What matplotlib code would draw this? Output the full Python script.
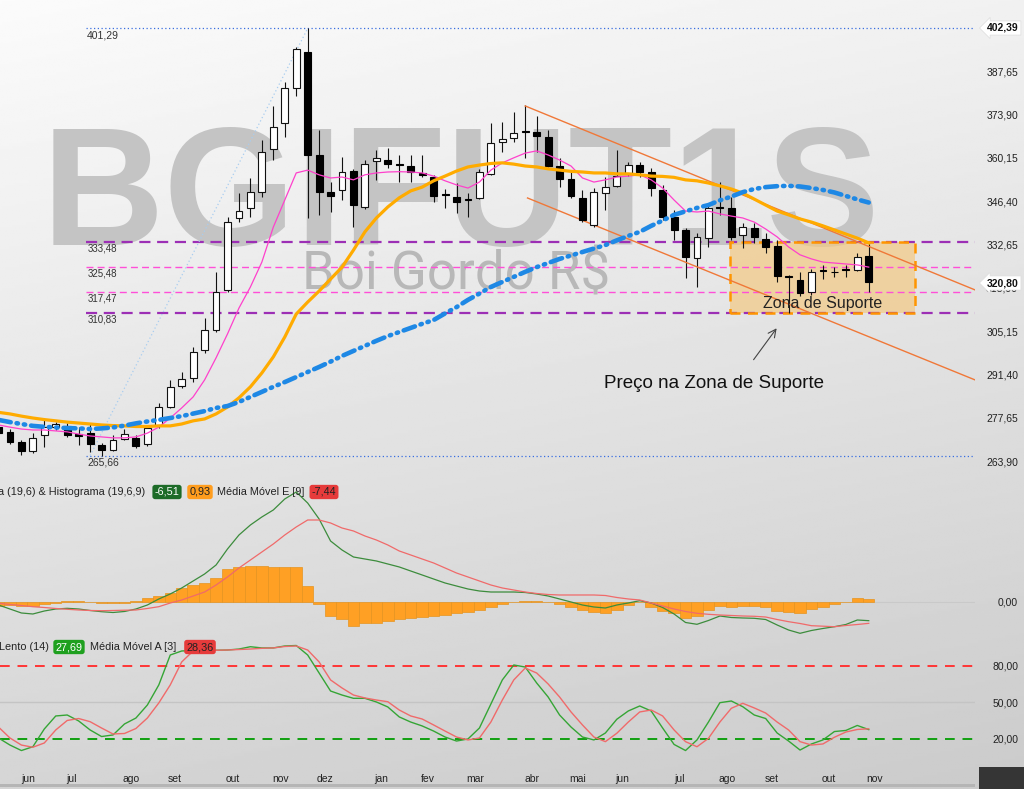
import numpy as np
import matplotlib
matplotlib.use('Agg')
from matplotlib import pyplot as plt
from matplotlib.patches import Rectangle

# weekly candles (BGIFUT1S)
opens = [274.9, 273.0, 270.1, 267.1, 272.2, 274.9, 275.1, 272.4, 272.8, 269.0,
         267.3, 270.9, 271.2, 269.3, 275.4, 281.2, 287.8, 290.2, 299.2, 305.5,
         318.2, 341.0, 344.2, 349.4, 362.9, 371.2, 382.3, 393.9, 361.1, 349.4,
         350.0, 356.1, 344.7, 359.3, 359.5, 358.0, 357.6, 355.5, 354.0, 348.5,
         347.7, 346.9, 347.4, 355.1, 365.3, 366.6, 368.6, 368.5, 366.9, 357.6,
         353.4, 347.4, 338.9, 349.1, 351.3, 355.3, 357.9, 355.8, 350.0, 341.5,
         337.3, 328.3, 334.7, 344.6, 344.2, 335.7, 337.8, 334.3, 332.2, 322.5,
         321.4, 317.7, 324.4, 324.0, 324.7, 324.6, 329.0]
highs = [275.5, 274.0, 270.5, 272.8, 277.0, 276.4, 276.0, 274.9, 276.0, 269.6,
         272.2, 274.1, 272.2, 275.0, 282.4, 289.6, 292.3, 300.2, 309.3, 324.1,
         341.3, 348.9, 353.7, 365.9, 376.7, 384.4, 395.5, 401.29, 369.0, 352.6,
         360.6, 356.5, 359.5, 362.7, 363.2, 361.1, 361.1, 361.1, 354.7, 350.2,
         352.1, 349.0, 356.5, 371.4, 371.7, 374.9, 377.0, 373.5, 369.0, 360.0,
         355.8, 350.0, 350.5, 354.2, 362.7, 359.0, 359.0, 357.0, 351.5, 343.6,
         337.8, 336.2, 345.2, 352.6, 347.9, 339.4, 339.4, 336.2, 334.1, 323.0,
         324.0, 325.0, 326.2, 325.5, 326.2, 330.1, 333.1]
lows = [272.0, 269.5, 265.8, 266.5, 268.5, 273.8, 271.6, 269.0, 266.9, 265.66,
        267.2, 270.6, 268.0, 268.8, 274.5, 280.8, 287.0, 289.0, 298.1, 305.0,
        317.7, 339.9, 341.5, 347.9, 359.5, 366.7, 379.8, 341.0, 342.0, 343.1,
        346.8, 338.3, 344.0, 353.2, 356.9, 352.6, 352.6, 354.0, 346.3, 344.2,
        342.6, 341.5, 347.0, 354.7, 362.1, 365.3, 360.0, 362.0, 357.4, 351.0,
        347.4, 339.9, 338.3, 343.6, 351.0, 354.5, 354.0, 348.0, 340.5, 334.1,
        322.0, 319.3, 332.0, 342.1, 334.1, 331.5, 333.0, 329.9, 320.9, 311.0,
        316.3, 316.5, 321.6, 322.5, 322.5, 324.4, 317.7]
closes = [272.8, 270.1, 267.0, 271.2, 274.9, 275.6, 272.2, 272.0, 269.3, 267.6,
          270.6, 272.4, 268.7, 274.3, 281.2, 287.5, 289.9, 298.7, 305.5, 317.7,
          339.9, 343.4, 349.2, 362.1, 369.9, 382.3, 394.6, 361.1, 349.4, 348.2,
          355.8, 345.2, 358.2, 360.0, 358.1, 357.8, 355.8, 354.7, 348.1, 348.3,
          346.3, 346.7, 355.8, 365.0, 366.1, 368.2, 368.4, 367.1, 357.6, 353.4,
          348.1, 340.5, 349.4, 350.8, 354.4, 357.9, 355.8, 350.5, 341.5, 337.3,
          328.8, 335.2, 344.2, 344.4, 335.2, 338.3, 335.0, 332.0, 322.7, 322.3,
          317.4, 324.1, 324.2, 323.8, 324.5, 328.6, 320.8]

ma_short = [275.4, 274.7, 274.1, 273.8, 273.8, 273.5, 273.2, 272.5, 271.9, 271.6,
            271.3, 271.3, 271.6, 272.8, 274.7, 277.6, 280.8, 284.3, 289.7, 296.7,
            304.3, 312.5, 319.2, 327.1, 338.2, 346.8, 355.4, 356.3, 354.8, 353.8,
            354.1, 353.2, 354.8, 355.4, 355.7, 355.8, 355.7, 355.4, 354.4, 352.9,
            351.6, 350.6, 352.5, 356.3, 358.6, 360.2, 361.7, 362.4, 361.1, 359.5,
            357.6, 353.8, 352.5, 353.2, 354.1, 354.4, 354.8, 353.2, 350.6, 346.8,
            343.3, 343.0, 343.3, 342.4, 341.7, 341.1, 339.8, 337.6, 335.1, 331.9,
            329.4, 328.1, 327.1, 326.8, 326.5, 326.2, 325.5]
ma_mid = [279.4, 278.9, 278.2, 277.6, 277.1, 276.7, 276.3, 276.0, 275.7, 275.4,
          275.2, 275.1, 274.9, 274.9, 275.1, 275.1, 275.7, 276.7, 277.3, 278.9,
          281.1, 284.0, 287.5, 291.9, 297.0, 303.3, 310.6, 314.4, 317.9, 321.7,
          325.5, 330.9, 336.7, 341.1, 344.6, 347.5, 349.7, 350.9, 352.9, 354.4,
          356.0, 357.3, 357.9, 358.4, 358.6, 358.2, 357.6, 357.3, 356.7, 356.3,
          355.9, 355.7, 355.4, 355.4, 355.1, 355.1, 354.8, 354.4, 354.3, 354.0,
          353.2, 352.9, 352.2, 351.3, 350.3, 349.0, 347.1, 345.2, 343.3, 342.1,
          340.8, 339.8, 338.6, 337.3, 336.0, 334.7, 333.2]
ma_long = [277.0, 276.3, 275.7, 275.1, 274.8, 274.6, 274.4, 274.3, 274.1, 274.3,
           274.6, 275.2, 275.9, 276.5, 277.0, 277.6, 278.2, 279.0, 279.8, 280.8,
           281.4, 282.7, 284.3, 285.9, 287.5, 289.0, 290.6, 292.2, 293.8, 295.5,
           297.3, 298.9, 300.5, 302.1, 303.6, 304.9, 306.2, 307.5, 308.7, 310.8,
           312.8, 315.1, 317.1, 319.2, 320.8, 322.4, 324.0, 325.5, 326.8, 328.1,
           329.2, 330.3, 331.4, 332.5, 334.0, 335.4, 336.7, 338.6, 340.3, 342.1,
           343.2, 344.3, 345.2, 346.7, 347.9, 349.3, 350.3, 350.9, 351.2, 351.3,
           351.1, 350.6, 350.0, 349.2, 348.1, 347.0, 346.0]

macd = [-1.05, -2.44, -3.83, -4.18, -3.14, -2.44, -2.20, -2.44, -2.96, -3.38,
        -3.66, -3.31, -2.44, -1.05, 1.05, 2.79, 4.88, 7.32, 9.76, 12.89,
        18.47, 23.34, 26.83, 29.62, 32.06, 35.89, 38.33, 34.49, 28.92, 21.25,
        18.12, 15.68, 14.98, 14.29, 13.24, 12.20, 10.80, 9.41, 8.01, 6.62,
        5.57, 4.53, 3.83, 3.48, 3.48, 3.48, 3.31, 2.79, 2.09, 1.05,
        0.0, -1.05, -1.74, -2.09, -1.05, -0.35, 0.45, -0.35, -1.92, -4.18,
        -7.14, -7.77, -6.45, -4.88, -5.40, -5.57, -5.68, -6.10, -8.01, -9.76,
        -10.91, -9.93, -9.23, -8.61, -7.84, -6.27, -6.51]
macd_signal = [-0.45, -0.87, -1.22, -1.64, -1.92, -2.26, -2.54, -2.79, -2.96, -3.03,
               -2.96, -2.86, -2.79, -2.26, -1.64, -0.35, 0.70, 2.09, 3.48, 5.92,
               8.71, 11.85, 14.63, 17.42, 20.21, 23.34, 26.13, 28.57, 28.57, 27.53,
               25.78, 24.74, 23.00, 21.60, 19.86, 17.77, 16.38, 14.98, 13.59, 11.85,
               10.10, 8.71, 7.32, 5.92, 4.88, 4.18, 3.48, 2.96, 2.61, 2.44,
               2.44, 2.44, 2.44, 2.26, 1.57, 1.05, 0.70, -0.35, -1.39, -2.44,
               -3.31, -3.94, -4.29, -4.53, -4.70, -4.88, -4.98, -5.23, -6.10, -6.86,
               -7.49, -8.26, -8.43, -8.61, -8.19, -7.84, -7.44]
macd_hist = [-1.39, -1.22, -1.39, -1.39, -0.70, -0.35, 0.35, 0.35, 0.05, -0.35,
             -0.52, -0.35, 0.35, 1.39, 2.09, 3.24, 4.77, 5.92, 6.52, 8.26,
             11.39, 12.30, 12.65, 12.65, 12.30, 12.30, 12.30, 5.57, -0.70, -4.88,
             -6.03, -8.26, -7.42, -7.21, -6.52, -5.92, -5.57, -5.23, -4.88, -4.53,
             -3.83, -3.48, -2.79, -1.74, -0.70, -0.10, 0.52, 0.52, 0.17, -0.70,
             -1.74, -2.79, -3.48, -3.94, -2.79, -1.05, -0.10, -1.64, -3.03, -3.94,
             -5.68, -4.88, -2.79, -1.39, -1.64, -1.39, -1.39, -1.64, -3.03, -3.38,
             -3.73, -2.54, -1.64, -0.70, -0.17, 1.39, 0.93]

stoch_k = [20.8, 15.0, 10.5, 13.6, 28.2, 38.9, 39.7, 34.8, 27.4, 22.0,
           23.3, 32.3, 37.2, 47.9, 64.4, 89.0, 92.3, 92.7, 92.7, 92.9,
           93.1, 93.9, 95.8, 94.8, 94.8, 96.4, 96.8, 89.0, 74.2, 59.4,
           56.1, 53.4, 53.4, 50.4, 46.3, 38.1, 33.9, 30.7, 26.5, 21.6,
           18.3, 20.0, 29.0, 48.7, 68.5, 80.8, 79.1, 66.0, 54.5, 39.7,
           29.8, 21.6, 19.2, 24.9, 36.2, 43.0, 47.1, 43.0, 29.0, 15.5,
           10.5, 19.2, 33.9, 49.8, 51.2, 46.5, 39.7, 36.8, 24.9, 18.3,
           10.9, 15.9, 19.2, 26.1, 27.0, 31.1, 27.69]
stoch_d = [29.8, 20.8, 15.0, 13.2, 16.7, 27.4, 35.2, 36.8, 34.2, 29.0,
           24.1, 24.5, 28.6, 37.2, 49.6, 64.4, 83.3, 92.3, 92.7, 92.9,
           93.1, 93.5, 93.9, 94.5, 94.8, 96.0, 96.4, 93.1, 83.3, 68.5,
           61.9, 56.1, 53.7, 52.0, 50.6, 43.8, 38.9, 36.4, 31.5, 26.5,
           21.6, 19.2, 20.8, 33.9, 52.0, 68.5, 78.3, 74.2, 65.2, 54.5,
           42.2, 31.5, 21.6, 17.8, 24.7, 33.9, 42.2, 43.8, 38.9, 27.4,
           17.8, 13.6, 20.5, 33.9, 45.2, 49.3, 45.5, 41.3, 33.9, 27.4,
           17.8, 15.0, 15.9, 21.4, 25.7, 27.8, 28.36]

month_pos = [2.58, 6.33, 11.57, 15.4, 20.5, 24.6, 28.5, 33.4, 37.5, 41.6,
             46.6, 50.6, 54.5, 59.5, 63.6, 67.5, 72.5, 76.5]
month_names = ['jun', 'jul', 'ago', 'set', 'out', 'nov', 'dez', 'jan', 'fev', 'mar',
               'abr', 'mai', 'jun', 'jul', 'ago', 'set', 'out', 'nov']

price_ticks = [263.90, 277.65, 291.40, 305.15, 318.90, 332.65, 346.40, 360.15, 373.90, 387.65, 401.40]
levels = [333.48, 325.48, 317.47, 310.83]
level_colors = ['#9c2fb5', '#ff4fd8', '#ff4fd8', '#9c2fb5']
hi_lo = [401.29, 265.66]
swing_x = [8, 27]
swing_y = [265.66, 401.29]
chan_top_x, chan_top_y = [46.0, 85.3], [376.66, 318.24]
chan_bot_x, chan_bot_y = [46.2, 85.3], [347.45, 289.67]
zone = (63.9, 80.0, 310.83, 333.48)
last_price = 320.80
top_price = 402.39

W, H = 1024, 789
fig = plt.figure(figsize=(W / 100, H / 100), dpi=100)
plt.rcParams['font.family'] = ['Liberation Sans', 'DejaVu Sans']


def fx(px):
    return px / W


def fy(py):
    return 1 - py / H


def comma(v):
    return f'{v:.2f}'.replace('.', ',')


# background gradient
bg = fig.add_axes([0, 0, 1, 1], zorder=-10)
yy, xx = np.mgrid[0:1:300j, 0:1:300j]
bg.imshow(0.985 - 0.15 * yy - 0.04 * xx, cmap='gray', vmin=0, vmax=1, aspect='auto')
bg.axis('off')

xl = (0.131, 85.28)
ax = fig.add_axes([0, fy(472), 975 / W, 472 / H])
axm = fig.add_axes([0, fy(641), 975 / W, 163 / H])
axs = fig.add_axes([0, fy(763), 975 / W, 122 / H])
for a in (ax, axm, axs):
    a.set_facecolor('none')
    a.set_xlim(*xl)
    for s in a.spines.values():
        s.set_visible(False)
    a.yaxis.tick_right()
    a.tick_params(axis='y', length=0, pad=31, labelsize=7.5, labelcolor='#222')
    a.tick_params(axis='x', length=0)
ax.set_ylim(260.46, 410.3)
axm.set_ylim(-13.59, 43.2)
axs.set_ylim(0.25, 100.5)

# watermark
ax.text(fx(461), fy(245), 'BGIFUT1S', transform=fig.transFigure, ha='center', va='baseline',
        fontsize=122, fontweight='bold', family='Liberation Sans', color='#c4c4c4', zorder=0.5)
ax.text(fx(456), fy(289), 'Boi Gordo R$', transform=fig.transFigure, ha='center', va='baseline',
        fontsize=38, family='Roboto', color='#b8b8b8', zorder=0.5)

x = np.arange(len(opens))
o = np.array(opens); h = np.array(highs); l = np.array(lows); c = np.array(closes)
ax.vlines(x, l, h, color='#111', lw=0.8, zorder=3)
body = np.maximum(np.abs(c - o), 0.3)
up = c >= o
ax.bar(x[up], body[up], bottom=np.minimum(o, c)[up], width=0.6, facecolor='white',
       edgecolor='#111', lw=0.8, zorder=4)
ax.bar(x[~up], body[~up], bottom=np.minimum(o, c)[~up], width=0.6, facecolor='black',
       edgecolor='black', lw=0.8, zorder=4)

ax.plot(x, ma_short, color='#ff40cc', lw=0.9, zorder=5)
ax.plot(x, ma_mid, color='#ffab00', lw=2.3, zorder=5)
ax.plot(x, ma_long, color='#1e88e5', lw=3.3, ls=(0, (2.6, 1.3, 0.3, 1.3, 0.3, 1.3)),
        dash_capstyle='round', zorder=5)

# levels
for v, col in zip(levels, level_colors):
    lw = 1.6 if col == '#9c2fb5' else 1.0
    ax.hlines(v, 7.6, xl[1], colors=col, lw=lw, linestyles=(0, (5, 3)), zorder=2)
    ax.annotate(comma(v), (7.75, v), xytext=(0, -1), textcoords='offset points',
                va='top', ha='left', fontsize=7, color='#333')
for v in hi_lo:
    ax.hlines(v, 7.6, xl[1], colors='#3a6fe0', lw=0.9, linestyles=(0, (1, 2)), zorder=2)
    ax.annotate(comma(v), (7.75, v), xytext=(0, -1.5), textcoords='offset points',
                va='top', ha='left', fontsize=7.5, color='#333')
ax.plot(swing_x, swing_y, color='#a8cdf0', lw=0.9, ls=(0, (1, 2)), zorder=2)

ax.plot(chan_top_x, chan_top_y, color='#f07838', lw=1, zorder=3)
ax.plot(chan_bot_x, chan_bot_y, color='#f07838', lw=1, zorder=3)

zx0, zx1, zy0, zy1 = zone
ax.add_patch(Rectangle((zx0, zy0), zx1 - zx0, zy1 - zy0, facecolor='#f3c983', alpha=0.7,
                       edgecolor='none', zorder=1.5))
ax.add_patch(Rectangle((zx0, zy0), zx1 - zx0, zy1 - zy0, facecolor='none',
                       edgecolor='#ff9500', lw=1.8, ls=(0, (4, 3)), zorder=2.5))
ax.text((zx0 + zx1) / 2, 314.1, 'Zona de Suporte', ha='center', va='center',
        fontsize=11.5, color='#222', zorder=6)
ax.text(62.5, 288.4, 'Preço na Zona de Suporte', ha='center', va='center',
        fontsize=13.5, color='#111', zorder=6)
ax.annotate('', xy=(68.1, 306.8), xytext=(65.8, 295.4),
            arrowprops=dict(arrowstyle='->', color='#444', lw=0.8, mutation_scale=14))

ax.set_yticks(price_ticks)
ax.set_yticklabels([comma(v) for v in price_ticks])
ax.set_xticks([])

# MACD panel
axm.axhline(0, color='#c9c9c9', lw=0.8, zorder=1)
axm.bar(x, macd_hist, width=1.0, color='#ffa024', edgecolor='#e59420', lw=0.5, zorder=2)
axm.plot(x, macd, color='#3c8c3c', lw=0.9, zorder=3)
axm.plot(x, macd_signal, color='#f06a6a', lw=0.9, zorder=3)
axm.set_yticks([0])
axm.set_yticklabels(['0,00'])
axm.set_xticks([])

# stochastic panel
axs.axhline(50, color='#c4c4c4', lw=1, zorder=1)
axs.axhline(80, color='#ff3535', lw=1.4, ls=(0, (5, 4)), zorder=1)
axs.axhline(20, color='#10a010', lw=1.4, ls=(0, (5, 4)), zorder=1)
axs.plot(x, stoch_k, color='#35a535', lw=1, zorder=3)
axs.plot(x, stoch_d, color='#f06a6a', lw=1, zorder=3)
axs.set_yticks([20, 50, 80])
axs.set_yticklabels(['20,00', '50,00', '80,00'])
axs.set_xticks(month_pos)
axs.set_xticklabels(month_names, fontsize=7.5, color='#222')
axs.tick_params(axis='x', pad=8)

for a in (ax, axm, axs):
    for t in a.get_yticklabels():
        t.set_horizontalalignment('right')

# panel legends
fs = 7.8
fig.text(fx(-2), fy(492), 'a (19,6) & Histograma (19,6,9)', va='center', fontsize=fs, color='#222')
fig.text(fx(167), fy(492), comma(macd[-1]), ha='center', va='center', fontsize=fs, color='white',
         bbox=dict(boxstyle='round,pad=0.2,rounding_size=0.25', fc='#1d6b28', ec='none'))
fig.text(fx(200), fy(492), comma(macd_hist[-1]), ha='center', va='center', fontsize=fs, color='#222',
         bbox=dict(boxstyle='round,pad=0.2,rounding_size=0.25', fc='#ff9d1e', ec='none'))
fig.text(fx(217), fy(492), 'Média Móvel E [9]', va='center', fontsize=fs, color='#222')
fig.text(fx(324), fy(492), comma(macd_signal[-1]), ha='center', va='center', fontsize=fs, color='#222',
         bbox=dict(boxstyle='round,pad=0.2,rounding_size=0.25', fc='#e63b3b', ec='none'))

fig.text(fx(-1), fy(647), 'Lento (14)', va='center', fontsize=fs, color='#222')
fig.text(fx(69), fy(647), comma(stoch_k[-1]), ha='center', va='center', fontsize=fs, color='white',
         bbox=dict(boxstyle='round,pad=0.2,rounding_size=0.25', fc='#1fa01f', ec='none'))
fig.text(fx(90), fy(647), 'Média Móvel A [3]', va='center', fontsize=fs, color='#222')
fig.text(fx(200), fy(647), comma(stoch_d[-1]), ha='center', va='center', fontsize=fs, color='#222',
         bbox=dict(boxstyle='round,pad=0.2,rounding_size=0.25', fc='#e63b3b', ec='none'))

# current price markers on the right scale
for v, py in ((top_price, 28), (last_price, 283)):
    fig.text(fx(1003), fy(py), comma(v), ha='center', va='center', fontsize=7.5,
             fontweight='bold', color='#111',
             bbox=dict(boxstyle='larrow,pad=0.2', fc='white', ec='#dddddd', lw=0.5))

# bottom strip
fig.patches.append(Rectangle((0, fy(787)), 975 / W, 3 / H, transform=fig.transFigure,
                             facecolor='#b5b5b5', edgecolor='none'))
fig.patches.append(Rectangle((fx(979), 0), 45 / W, 22 / H, transform=fig.transFigure,
                             facecolor='#353535', edgecolor='none'))

fig.savefig('out.png', dpi=100)
